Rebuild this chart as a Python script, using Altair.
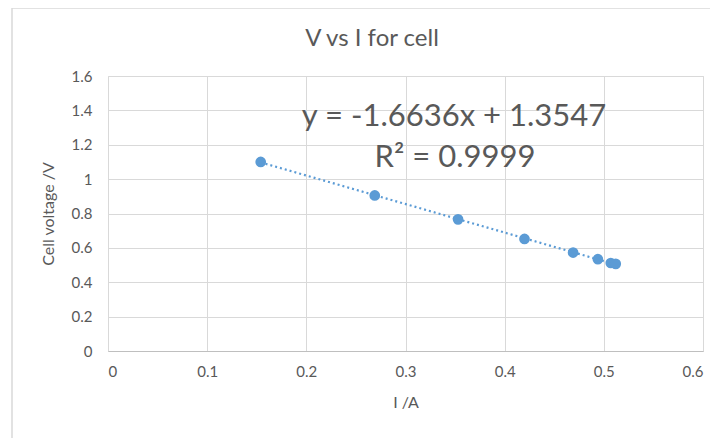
import altair as alt
import pandas as pd

current = [0.154, 0.269, 0.353, 0.420, 0.469, 0.494, 0.507, 0.512]
voltage = [1.100, 0.905, 0.766, 0.652, 0.573, 0.534, 0.512, 0.507]
x_ticks = [0, 0.1, 0.2, 0.3, 0.4, 0.5, 0.6]
y_ticks = [0, 0.2, 0.4, 0.6, 0.8, 1.0, 1.2, 1.4, 1.6]
chart_title = "V vs I for cell"
eq_text = "y = -1.6636x + 1.3547"
r2_text = "R² = 0.9999"

df = pd.DataFrame({"I": current, "V": voltage})
FONT = "Lato"
GREY = "#595959"
BLUE = "#5B9BD5"

xs = alt.Scale(domain=[0, 0.6], nice=False)
ys = alt.Scale(domain=[0, 1.6], nice=False)

x_axis = alt.Axis(values=x_ticks, format="~g", title="I /A", grid=True,
                  gridColor="#d9d9d9", domainColor="#bfbfbf", ticks=False,
                  labelPadding=13, titlePadding=15, labelColor=GREY, titleColor=GREY,
                  labelFontSize=15, titleFontSize=16, titleFontWeight="normal",
                  labelFont=FONT, titleFont=FONT, labelOverlap=False)
y_axis = alt.Axis(values=y_ticks, format="~g", title="Cell voltage /V", grid=True,
                  gridColor="#d9d9d9", domain=False, ticks=False,
                  labelPadding=16, titlePadding=15, labelColor=GREY, titleColor=GREY,
                  labelFontSize=15, titleFontSize=16, titleFontWeight="normal",
                  labelFont=FONT, titleFont=FONT, labelOverlap=False)

X = alt.X("I:Q", scale=xs, axis=x_axis)
Y = alt.Y("V:Q", scale=ys, axis=y_axis)

base = alt.Chart(df)

trend = base.transform_regression("I", "V").mark_line(
    color=BLUE, strokeDash=[2, 3], strokeWidth=2.2
).encode(x=X, y=Y)

points = base.mark_circle(size=115, color=BLUE, opacity=1).encode(x=X, y=Y)

def label(txt, px, py, size):
    return alt.Chart(pd.DataFrame({"t": [txt]})).mark_text(
        font=FONT, fontSize=size, color=GREY, align="center", baseline="middle"
    ).encode(x=alt.value(px), y=alt.value(py), text="t:N")

title = label(chart_title, 264, -37, 24)
eq = label(eq_text, 346, 41, 31)
r2 = label(r2_text, 347, 82, 31)

frame_left = alt.Chart(pd.DataFrame({"a": [0]})).mark_rule(color="#d9d9d9", strokeWidth=1.5).encode(
    x=alt.value(-96), y=alt.value(-68), y2=alt.value(362)
)
frame_top = alt.Chart(pd.DataFrame({"a": [0]})).mark_rule(color="#d9d9d9", strokeWidth=1.5).encode(
    x=alt.value(-96), x2=alt.value(610), y=alt.value(-68)
)

chart = alt.layer(frame_left, frame_top, trend, points, title, eq, r2).properties(
    width=595, height=275,
    autosize=alt.AutoSizeParams(type="none"),
    padding={"left": 100, "top": 68, "right": 7, "bottom": 87},
).configure_view(stroke=None).configure(background="white")

chart.save("out.html", embed_options={"renderer": "svg", "actions": False})
